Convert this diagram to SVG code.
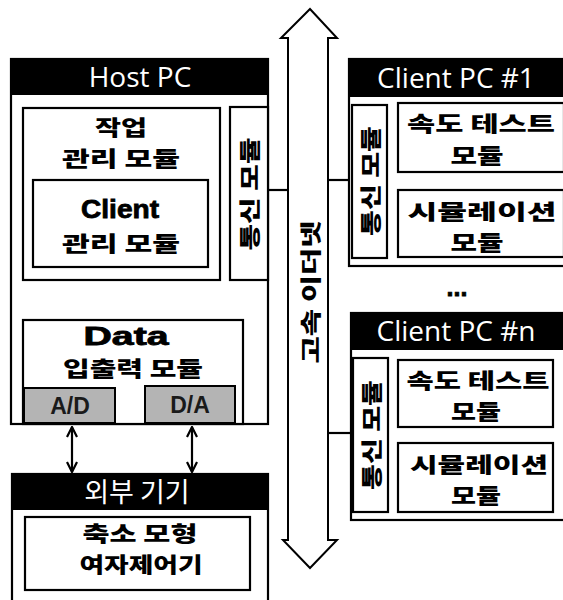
<svg xmlns="http://www.w3.org/2000/svg" width="563" height="600" viewBox="0 0 563 600">
<defs>
<style>
.box{fill:#fff;stroke:#000;stroke-width:2.2}
.hdr{fill:#000}
.ht{font-family:"Open Sans","Noto Sans",sans-serif;font-size:28px;fill:#fff;text-anchor:middle}
.hk{font-family:"Noto Sans CJK KR",sans-serif;font-size:27px;fill:#fff;text-anchor:middle}
.b{font-family:"Noto Sans CJK KR","Noto Sans",sans-serif;font-weight:900;font-size:21px;fill:#000;text-anchor:middle}
.e{font-family:"Liberation Sans",sans-serif;font-weight:bold;font-size:25px;fill:#000;text-anchor:middle;stroke:#000;stroke-width:0.8}
.ad{fill:#b4b4b4;stroke:#000;stroke-width:2}
.adt{font-family:"Liberation Sans",sans-serif;font-weight:bold;font-size:23px;fill:#1a1a1a;text-anchor:middle}
.ln{stroke:#000;stroke-width:2.2;fill:none}
</style>
<marker id="ah" viewBox="0 0 12 12" refX="11" refY="6" markerWidth="12" markerHeight="12" markerUnits="userSpaceOnUse" orient="auto-start-reverse">
<path d="M1,1 L11,6 L1,11" fill="none" stroke="#000" stroke-width="2.2"/>
</marker>
</defs>

<g id="ethernet">
<path d="M310,9 L337,38 L328,38 L328,540 L337,540 L310,568 L283,540 L288,540 L288,38 L281,38 Z" fill="#fff" stroke="#000" stroke-width="2"/>
<text class="b" font-size="26" textLength="143" lengthAdjust="spacingAndGlyphs" transform="translate(318,292) rotate(-90)">고속 이더넷</text>
</g>

<g id="connectors">
<line class="ln" x1="268" y1="190" x2="288" y2="190"/>
<line class="ln" x1="328" y1="180" x2="350" y2="180"/>
<line class="ln" x1="328" y1="433" x2="352" y2="433"/>
<line class="ln" x1="72" y1="427" x2="72" y2="472" marker-start="url(#ah)" marker-end="url(#ah)"/>
<line class="ln" x1="192" y1="427" x2="192" y2="472" marker-start="url(#ah)" marker-end="url(#ah)"/>
</g>

<g id="host-pc">
<rect class="box" x="11" y="59" width="257" height="365"/>
<rect class="hdr" x="10" y="58" width="259" height="37"/>
<text class="ht" x="140" y="87">Host PC</text>
</g>

<g id="job-module">
<rect class="box" x="23" y="108" width="197" height="172"/>
<text class="b" x="121" y="135" textLength="52" lengthAdjust="spacingAndGlyphs">작업</text>
<text class="b" x="121" y="166" textLength="118" lengthAdjust="spacingAndGlyphs">관리 모듈</text>
</g>

<g id="client-module">
<rect class="box" x="33" y="180" width="175" height="87"/>
<text class="e" x="120" y="218" textLength="78" lengthAdjust="spacingAndGlyphs">Client</text>
<text class="b" x="121" y="251" textLength="118" lengthAdjust="spacingAndGlyphs">관리 모듈</text>
</g>

<g id="host-comm">
<rect class="box" x="230" y="107" width="38" height="173"/>
<text class="b" font-size="24" textLength="113" lengthAdjust="spacingAndGlyphs" transform="translate(257,194) rotate(-90)">통신 모듈</text>
</g>

<g id="data-module">
<rect class="box" x="23" y="320" width="220" height="104"/>
<text class="e" x="126" y="345" textLength="85" lengthAdjust="spacingAndGlyphs">Data</text>
<text class="b" x="133" y="376" textLength="140" lengthAdjust="spacingAndGlyphs">입출력 모듈</text>
<rect class="ad" x="24" y="388" width="91" height="35"/>
<text class="adt" x="70" y="414">A/D</text>
<rect class="ad" x="145" y="386" width="90" height="37"/>
<text class="adt" x="190" y="413">D/A</text>
</g>

<g id="external-device">
<rect class="box" x="12" y="474" width="256" height="140"/>
<rect class="hdr" x="11" y="473" width="258" height="37"/>
<text class="hk" x="137" y="502">외부 기기</text>
<rect class="box" x="25" y="517" width="225" height="73"/>
<text class="b" x="140" y="541" textLength="115" lengthAdjust="spacingAndGlyphs">축소 모형</text>
<text class="b" x="141" y="572" textLength="123" lengthAdjust="spacingAndGlyphs">여자제어기</text>
</g>

<g id="client-pc-1">
<rect class="box" x="349" y="59" width="220" height="207"/>
<rect class="hdr" x="348" y="58" width="215" height="39"/>
<text class="ht" x="456" y="88" font-size="26">Client PC #1</text>
<rect class="box" x="352" y="105" width="35" height="153"/>
<text class="b" font-size="24" textLength="110" lengthAdjust="spacingAndGlyphs" transform="translate(378,181) rotate(-90)">통신 모듈</text>
<rect class="box" x="398" y="103" width="166" height="69"/>
<text class="b" x="481" y="131" textLength="148" lengthAdjust="spacingAndGlyphs">속도 테스트</text>
<text class="b" x="477" y="163" textLength="53" lengthAdjust="spacingAndGlyphs">모듈</text>
<rect class="box" x="398" y="190" width="166" height="67"/>
<text class="b" x="482" y="219" textLength="149" lengthAdjust="spacingAndGlyphs">시뮬레이션</text>
<text class="b" x="477" y="250" textLength="53" lengthAdjust="spacingAndGlyphs">모듈</text>
</g>

<g id="ellipsis">
<text class="e" x="457" y="296" font-size="22">...</text>
</g>

<g id="client-pc-n">
<rect class="box" x="351" y="313" width="220" height="207"/>
<rect class="hdr" x="350" y="312" width="213" height="38"/>
<text class="ht" x="456" y="341" font-size="26">Client PC #n</text>
<rect class="box" x="353" y="358" width="35" height="154"/>
<text class="b" font-size="24" textLength="110" lengthAdjust="spacingAndGlyphs" transform="translate(379,435) rotate(-90)">통신 모듈</text>
<rect class="box" x="398" y="360" width="155" height="67"/>
<text class="b" x="478" y="388" textLength="143" lengthAdjust="spacingAndGlyphs">속도 테스트</text>
<text class="b" x="476" y="419" textLength="50" lengthAdjust="spacingAndGlyphs">모듈</text>
<rect class="box" x="398" y="443" width="155" height="69"/>
<text class="b" x="479" y="472" textLength="138" lengthAdjust="spacingAndGlyphs">시뮬레이션</text>
<text class="b" x="476" y="503" textLength="50" lengthAdjust="spacingAndGlyphs">모듈</text>
</g>
</svg>
